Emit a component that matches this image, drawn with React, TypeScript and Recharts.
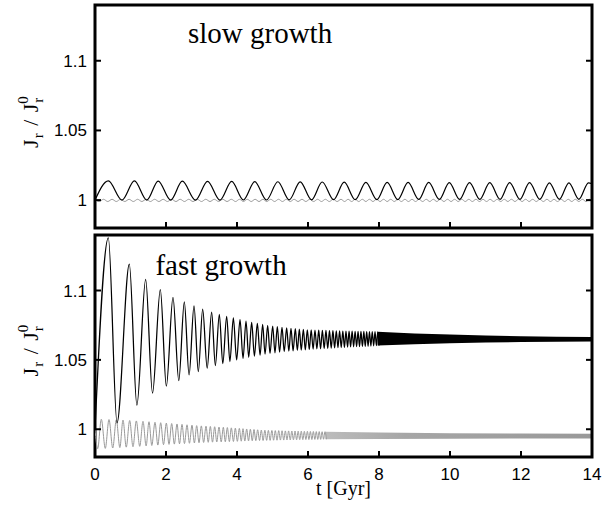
import React from 'react';
import { ComposedChart, Line, Area, XAxis, YAxis, ReferenceArea, ReferenceDot } from 'recharts';

const xTicks = [0, 2, 4, 6, 8, 10, 12, 14];
const yTicks = [1, 1.05, 1.1];
const yDomain: [number, number] = [0.98, 1.14];
const xDomain: [number, number] = [0, 14];

// slow growth – black curve (extrema)
const slowBlack: [number, number][] = [
  [0, 1.0], [0.375, 1.0138], [0.76, 1.0], [1.11, 1.0138], [1.46, 1.0], [1.78, 1.0137], [2.13, 1.0],
  [2.46, 1.0136], [2.83, 1.0], [3.17, 1.0135], [3.52, 1.0], [3.85, 1.0134], [4.18, 1.0001],
  [4.5, 1.0133], [4.83, 1.0001], [5.15, 1.0132], [5.47, 1.0002], [5.78, 1.0131], [6.1, 1.0002],
  [6.4, 1.013], [6.72, 1.0003], [7.02, 1.0129], [7.33, 1.0003], [7.63, 1.0128], [7.94, 1.0004],
  [8.23, 1.0128], [8.53, 1.0004], [8.82, 1.0127], [9.12, 1.0005], [9.4, 1.0127], [9.7, 1.0005],
  [9.98, 1.0126], [10.27, 1.0005], [10.55, 1.0126], [10.84, 1.0006], [11.12, 1.0125], [11.41, 1.0006],
  [11.68, 1.0125], [11.97, 1.0006], [12.24, 1.0125], [12.53, 1.0006], [12.8, 1.0124], [13.08, 1.0006],
  [13.35, 1.0124], [13.63, 1.0006], [13.9, 1.0124], [14.0, 1.0118],
];

// slow growth – grey curve
const slowGray: [number, number][] = [
  [0, 1.0], [0.12, 0.999], [0.24, 1.0006], [0.36, 0.999], [0.48, 1.0006], [0.6, 0.999], [0.72, 1.0006],
  [0.84, 0.999], [0.96, 1.0006], [1.08, 0.999], [1.2, 1.0006], [1.32, 0.999], [1.44, 1.0006], [1.56, 0.999],
  [1.68, 1.0006], [1.8, 0.999], [1.92, 1.0006], [2.04, 0.999], [2.16, 1.0006], [2.28, 0.999], [2.4, 1.0006],
  [2.52, 0.999], [2.64, 1.0006], [2.76, 0.999], [2.88, 1.0006], [3.0, 0.999], [3.12, 1.0006], [3.24, 0.999],
  [3.36, 1.0006], [3.48, 0.999], [3.6, 1.0006], [3.72, 0.999], [3.84, 1.0006], [3.96, 0.999], [4.07, 1.0006],
  [4.18, 0.999], [4.29, 1.0006], [4.4, 0.999], [4.51, 1.0006], [4.62, 0.999], [4.73, 1.0006], [4.84, 0.999],
  [4.95, 1.0006], [5.06, 0.999], [5.17, 1.0006], [5.28, 0.999], [5.39, 1.0006], [5.5, 0.999], [5.61, 1.0006],
  [5.72, 0.999], [5.83, 1.0006], [5.94, 0.999], [6.05, 1.0006], [6.16, 0.999], [6.27, 1.0006], [6.38, 0.999],
  [6.49, 1.0006], [6.6, 0.999], [6.71, 1.0006], [6.82, 0.999], [6.93, 1.0006], [7.03, 0.999], [7.13, 1.0006],
  [7.23, 0.999], [7.33, 1.0006], [7.43, 0.999], [7.53, 1.0006], [7.63, 0.999], [7.73, 1.0006], [7.83, 0.999],
  [7.93, 1.0006], [8.03, 0.999], [8.13, 1.0006], [8.23, 0.999], [8.33, 1.0006], [8.43, 0.999], [8.53, 1.0006],
  [8.63, 0.999], [8.73, 1.0006], [8.83, 0.999], [8.93, 1.0006], [9.03, 0.999], [9.13, 1.0006], [9.23, 0.999],
  [9.33, 1.0006], [9.43, 0.999], [9.53, 1.0006], [9.63, 0.999], [9.73, 1.0006], [9.83, 0.999], [9.93, 1.0006],
  [10.03, 0.999], [10.13, 1.0006], [10.23, 0.999], [10.33, 1.0006], [10.43, 0.999], [10.53, 1.0006], [10.63, 0.999],
  [10.73, 1.0006], [10.83, 0.999], [10.93, 1.0006], [11.03, 0.999], [11.13, 1.0006], [11.23, 0.999], [11.33, 1.0006],
  [11.43, 0.999], [11.53, 1.0006], [11.63, 0.999], [11.73, 1.0006], [11.83, 0.999], [11.93, 1.0006], [12.03, 0.999],
  [12.13, 1.0006], [12.23, 0.999], [12.33, 1.0006], [12.43, 0.999], [12.53, 1.0006], [12.63, 0.999], [12.73, 1.0006],
  [12.83, 0.999], [12.93, 1.0006], [13.03, 0.999], [13.13, 1.0006], [13.23, 0.999], [13.33, 1.0006], [13.43, 0.999],
  [13.53, 1.0006], [13.63, 0.999], [13.73, 1.0006], [13.83, 0.999], [13.93, 1.0006], [14.0, 0.9995],
];

// fast growth – black curve, resolved oscillation extrema
const fastBlack: [number, number][] = [
  [0, 1.0], [0.376, 1.138], [0.62, 1.0046], [0.967, 1.119], [1.18, 1.0174], [1.427, 1.108], [1.62, 1.026],
  [1.84, 1.1007], [2.01, 1.031], [2.197, 1.095], [2.36, 1.035], [2.516, 1.0918], [2.65, 1.0391],
  [2.789, 1.0889], [2.91, 1.0415], [3.033, 1.0865], [3.16, 1.044], [3.286, 1.0845], [3.39, 1.0459],
  [3.502, 1.0828], [3.6, 1.0473], [3.709, 1.0814], [3.8, 1.0488], [3.897, 1.0802], [3.99, 1.05],
  [4.085, 1.079], [4.17, 1.051], [4.254, 1.078], [4.33, 1.0519], [4.413, 1.077], [4.49, 1.0527],
  [4.573, 1.0763], [4.65, 1.0534], [4.723, 1.0756], [4.79, 1.0541], [4.864, 1.0749], [4.93, 1.0546],
  [5.005, 1.0744], [5.07, 1.0551], [5.136, 1.0739], [5.2, 1.0556], [5.268, 1.0734], [5.33, 1.056],
  [5.399, 1.073], [5.46, 1.0563], [5.521, 1.0727], [5.58, 1.0565], [5.643, 1.0725], [5.7, 1.0568],
  [5.756, 1.0722], [5.81, 1.057], [5.869, 1.072], [5.925, 1.0572], [5.981, 1.0717],
  [6.036, 1.0575], [6.09, 1.0716], [6.144, 1.0577], [6.197, 1.0715], [6.25, 1.0579], [6.302, 1.0714],
  [6.354, 1.058], [6.405, 1.0713], [6.456, 1.0582], [6.506, 1.0712], [6.556, 1.0583], [6.605, 1.0711],
  [6.654, 1.0585], [6.702, 1.071], [6.75, 1.0586], [6.797, 1.0709], [6.844, 1.0588], [6.89, 1.0709],
  [6.936, 1.0589], [6.981, 1.0708], [7.026, 1.059], [7.07, 1.0708], [7.114, 1.0592], [7.157, 1.0707],
  [7.2, 1.0593], [7.243, 1.0707], [7.285, 1.0594], [7.327, 1.0706], [7.369, 1.0595], [7.41, 1.0706],
  [7.451, 1.0596], [7.492, 1.0705], [7.533, 1.0597], [7.573, 1.0705], [7.613, 1.0598], [7.653, 1.0704],
  [7.693, 1.0599], [7.732, 1.0704], [7.771, 1.06], [7.81, 1.0703], [7.849, 1.0601], [7.888, 1.0703],
  [7.927, 1.0602], [7.965, 1.0702], [8.0, 1.0603],
];
// fast growth – black curve, unresolved band (low, high)
const fastBlackBand: [number, number, number][] = [
  [7.96, 1.0603, 1.0703], [9.0, 1.0613, 1.069], [10.0, 1.062, 1.0682], [11.0, 1.0625, 1.0675],
  [12.0, 1.0628, 1.067], [13.0, 1.0631, 1.0667], [14.0, 1.0633, 1.0665],
];

// fast growth – grey curve, resolved extrema
const fastGray: [number, number][] = [
  [0, 1.0], [0.075, 0.986], [0.178, 1.0072], [0.29, 0.9862], [0.394, 1.007], [0.5, 0.9865], [0.601, 1.0068],
  [0.7, 0.9868], [0.789, 1.0066], [0.88, 0.9871], [0.977, 1.0063], [1.07, 0.9874], [1.164, 1.006],
  [1.26, 0.9877], [1.352, 1.0057], [1.44, 0.988], [1.521, 1.0054], [1.6, 0.9883], [1.69, 1.005],
  [1.77, 0.9886], [1.85, 1.0047], [1.93, 0.9889], [2.009, 1.0044], [2.085, 0.9891], [2.16, 1.0041],
  [2.235, 0.9893], [2.31, 1.0038], [2.38, 0.9895], [2.451, 1.0035], [2.52, 0.9897], [2.592, 1.0032],
  [2.66, 0.9899], [2.732, 1.0029], [2.8, 0.9901], [2.864, 1.0026], [2.93, 0.9903], [2.995, 1.0024],
  [3.06, 0.9905], [3.127, 1.0022], [3.19, 0.9906], [3.249, 1.002], [3.31, 0.9907], [3.371, 1.0018],
  [3.43, 0.9908], [3.493, 1.0016], [3.555, 0.9909], [3.615, 1.0014], [3.67, 0.991], [3.728, 1.0012],
  [3.785, 0.9911], [3.84, 1.001], [3.9, 0.9912], [3.953, 1.0008], [4.01, 0.9913], [4.066, 1.0006],
  [4.12, 0.9914], [4.169, 1.0004], [4.22, 0.9915], [4.272, 1.0002], [4.325, 0.9916], [4.376, 1.0],
  [4.43, 0.9917], [4.479, 0.9998], [4.53, 0.9918], [4.582, 0.9996], [4.635, 0.9919], [4.685, 0.9994],
  [4.735, 0.9919], [4.785, 0.9993], [4.835, 0.992], [4.884, 0.9992], [4.933, 0.992], [4.982, 0.9991],
  [5.031, 0.9921], [5.079, 0.999], [5.127, 0.9921], [5.175, 0.999], [5.222, 0.9922], [5.269, 0.9989],
  [5.316, 0.9922], [5.362, 0.9988], [5.408, 0.9923], [5.454, 0.9988], [5.5, 0.9923], [5.545, 0.9987],
  [5.59, 0.9924], [5.635, 0.9987], [5.679, 0.9924], [5.723, 0.9986], [5.767, 0.9925], [5.811, 0.9986],
  [5.854, 0.9925], [5.897, 0.9985], [5.94, 0.9926], [5.983, 0.9985], [6.025, 0.9926], [6.067, 0.9984],
  [6.109, 0.9926], [6.151, 0.9984], [6.193, 0.9927], [6.234, 0.9983], [6.275, 0.9927], [6.316, 0.9983],
  [6.357, 0.9927], [6.398, 0.9982], [6.438, 0.9928], [6.478, 0.9982], [6.518, 0.9928],
];
// fast growth – grey curve, unresolved band (low, high)
const fastGrayBand: [number, number, number][] = [
  [6.49, 0.9928, 0.9982], [8.0, 0.993, 0.9977], [10.0, 0.9932, 0.9972], [12.0, 0.9933, 0.9969],
  [14.0, 0.9934, 0.9967],
];

const toPts = (a: [number, number][]) => a.map(([t, v]) => ({ t, v }));
const toBand = (a: [number, number, number][]) => a.map(([t, lo, hi]) => ({ t, range: [lo, hi] }));

const BLACK = '#000000';
const GREY = '#999999';
const SERIF = 'Liberation Serif, Times New Roman, serif';
const tickStyle = { fontSize: 17, fontFamily: 'Liberation Sans, Arial, sans-serif', fill: '#000' };
const tickLine = { stroke: '#000', strokeWidth: 2 };

const YLabel = ({ cy }: { cy: number }) => (
  <text
    transform={`translate(38,${cy}) rotate(-90)`}
    textAnchor="middle"
    fontFamily={SERIF}
    fontSize={22}
    letterSpacing={1}
    fill="#000"
  >
    <tspan>J</tspan>
    <tspan dy={5} fontSize={15}>r</tspan>
    <tspan dy={-5}> / J</tspan>
    <tspan dy={5} fontSize={15}>r</tspan>
    <tspan dx={-7} dy={-15} fontSize={15}>0</tspan>
  </text>
);

const Annot = (text: string) => (p: any) => (
  <text x={p.cx} y={p.cy} textAnchor="middle" fontFamily={SERIF} fontSize={29} fill="#000">
    {text}
  </text>
);

export default function App() {
  return (
    <div style={{ position: 'absolute', left: 0, top: 0, width: 608, height: 506, background: '#fff' }}>
      <div style={{ position: 'absolute', left: 0, top: 0 }}>
        <ComposedChart width={608} height={232} margin={{ top: 5, right: 0, bottom: 0, left: 0 }}>
          <XAxis xAxisId="b" orientation="bottom" type="number" dataKey="t" domain={xDomain} ticks={xTicks}
            allowDataOverflow height={4} axisLine={false} tickSize={-6} tickLine={tickLine}
            tickFormatter={() => ''} />
          <XAxis xAxisId="t" orientation="top" type="number" dataKey="t" domain={xDomain} ticks={xTicks}
            allowDataOverflow height={0} axisLine={false} tickSize={-6} tickLine={tickLine}
            tickFormatter={() => ''} />
          <YAxis yAxisId="l" orientation="left" type="number" domain={yDomain} ticks={yTicks} allowDataOverflow
            width={95} axisLine={false} tickSize={-6} tickLine={tickLine} tickMargin={14} tick={tickStyle}
            tickFormatter={(v: number) => String(v)}
            label={{ content: (p: any) => <YLabel cy={(p?.viewBox?.y ?? 5) + (p?.viewBox?.height ?? 223) / 2 + 5} /> }} />
          <YAxis yAxisId="r" orientation="right" type="number" domain={yDomain} ticks={yTicks} allowDataOverflow
            width={16} axisLine={false} tickSize={-6} tickLine={tickLine} tickFormatter={() => ''} />
          <Line xAxisId="b" yAxisId="l" data={toPts(slowGray)} dataKey="v" type="monotone" stroke={GREY}
            strokeWidth={1} dot={false} activeDot={false} isAnimationActive={false} />
          <Line xAxisId="b" yAxisId="l" data={toPts(slowBlack)} dataKey="v" type="monotone" stroke={BLACK}
            strokeWidth={1.2} dot={false} activeDot={false} isAnimationActive={false} />
          <ReferenceDot xAxisId="b" yAxisId="l" x={4.65} y={1.1127} r={0} shape={Annot('slow growth')} />
          <ReferenceArea xAxisId="b" yAxisId="l" x1={0} x2={14} y1={0.98} y2={1.14} fill="none"
            fillOpacity={0} stroke="#000" strokeWidth={3} />
        </ComposedChart>
      </div>
      <div style={{ position: 'absolute', left: 0, top: 232 }}>
        <ComposedChart width={608} height={274} margin={{ top: 3, right: 0, bottom: 0, left: 0 }}>
          <defs>
            <linearGradient id="greyBand" x1="0" y1="0" x2="1" y2="0">
              <stop offset="0" stopColor="#bcbcbc" />
              <stop offset="0.3" stopColor="#a6a6a6" />
              <stop offset="1" stopColor="#999999" />
            </linearGradient>
          </defs>
          <XAxis xAxisId="b" orientation="bottom" type="number" dataKey="t" domain={xDomain} ticks={xTicks}
            allowDataOverflow height={49} axisLine={false} tickSize={-6} tickLine={tickLine} tickMargin={17}
            tick={tickStyle}
            label={{ value: 't [Gyr]', position: 'insideBottom', offset: 11, fontSize: 20, fontFamily: SERIF, fill: '#000' }} />
          <XAxis xAxisId="t" orientation="top" type="number" dataKey="t" domain={xDomain} ticks={xTicks}
            allowDataOverflow height={0} axisLine={false} tickSize={-6} tickLine={tickLine}
            tickFormatter={() => ''} />
          <YAxis yAxisId="l" orientation="left" type="number" domain={yDomain} ticks={yTicks} allowDataOverflow
            width={95} axisLine={false} tickSize={-6} tickLine={tickLine} tickMargin={14} tick={tickStyle}
            tickFormatter={(v: number) => String(v)}
            label={{ content: (p: any) => <YLabel cy={(p?.viewBox?.y ?? 3) + (p?.viewBox?.height ?? 222) / 2 + 4} /> }} />
          <YAxis yAxisId="r" orientation="right" type="number" domain={yDomain} ticks={yTicks} allowDataOverflow
            width={16} axisLine={false} tickSize={-6} tickLine={tickLine} tickFormatter={() => ''} />
          <Area xAxisId="b" yAxisId="l" data={toBand(fastGrayBand)} dataKey="range" type="linear" stroke="none"
            fill="url(#greyBand)" fillOpacity={1} dot={false} activeDot={false} isAnimationActive={false} />
          <Line xAxisId="b" yAxisId="l" data={toPts(fastGray)} dataKey="v" type="monotone" stroke={GREY}
            strokeWidth={1} dot={false} activeDot={false} isAnimationActive={false} />
          <Area xAxisId="b" yAxisId="l" data={toBand(fastBlackBand)} dataKey="range" type="linear" stroke="none"
            fill={BLACK} fillOpacity={1} dot={false} activeDot={false} isAnimationActive={false} />
          <Line xAxisId="b" yAxisId="l" data={toPts(fastBlack)} dataKey="v" type="monotone" stroke={BLACK}
            strokeWidth={1.25} dot={false} activeDot={false} isAnimationActive={false} />
          <ReferenceDot xAxisId="b" yAxisId="l" x={3.55} y={1.1109} r={0} shape={Annot('fast growth')} />
          <ReferenceArea xAxisId="b" yAxisId="l" x1={0} x2={14} y1={0.98} y2={1.14} fill="none"
            fillOpacity={0} stroke="#000" strokeWidth={3} />
        </ComposedChart>
      </div>
    </div>
  );
}
